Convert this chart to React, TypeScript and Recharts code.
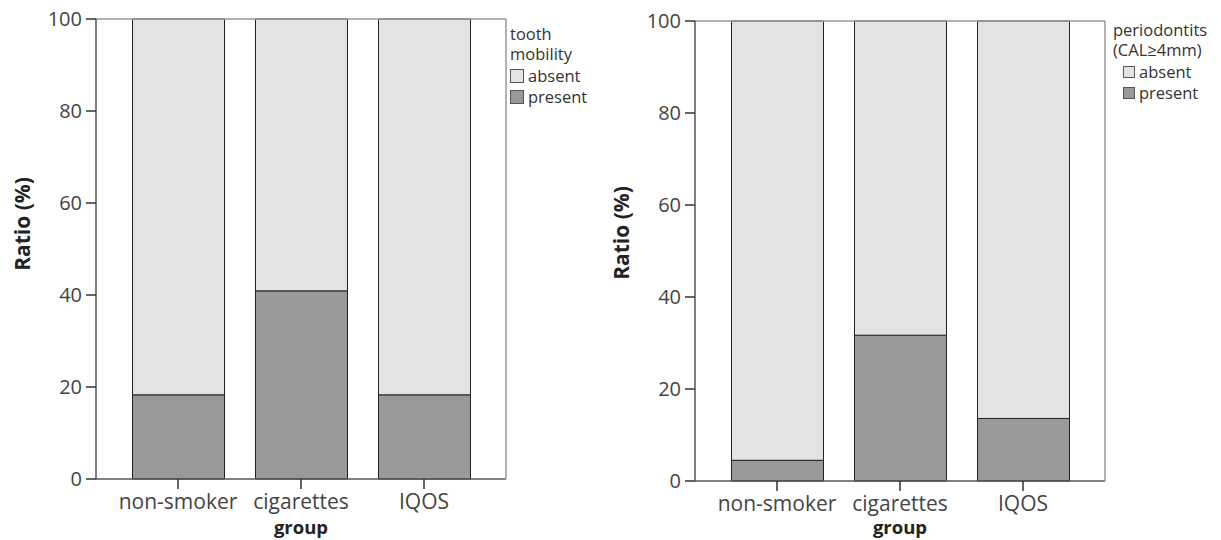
import { BarChart, Bar, XAxis, YAxis } from 'recharts';

const groups = ['non-smoker', 'cigarettes', 'IQOS'];

// tooth mobility (%)
const mobilityPresent = [18.3, 40.9, 18.3];
const mobilityAbsent = [81.7, 59.1, 81.7];

// periodontitis CAL>=4mm (%)
const perioPresent = [4.5, 31.7, 13.6];
const perioAbsent = [95.5, 68.3, 86.4];

const yTicks = [0, 20, 40, 60, 80, 100];

const ABSENT = '#e3e3e3';
const PRESENT = '#999999';
const FONT = '"Open Sans", "Noto Sans", sans-serif';

type PanelProps = {
    present: number[];
    absent: number[];
    top: number;
    labelShift: number;
};

function Panel({ present, absent, top, labelShift }: PanelProps) {
    const data = groups.map((g, i) => ({
        group: g,
        present: present[i],
        absent: absent[i],
    }));

    const yLabel = (props: any) => {
        const vb = props.viewBox;
        const cx = vb.x + 22;
        const cy = vb.y + vb.height / 2 + labelShift;
        return (
            <text
                x={cx}
                y={cy}
                transform={`rotate(-90 ${cx} ${cy})`}
                textAnchor="middle"
                dominantBaseline="central"
                fontFamily={FONT}
                fontWeight="bold"
                fontSize={21}
                fill="#222"
            >
                Ratio (%)
            </text>
        );
    };

    // axis title sits at the same baseline in both panels
    const xLabel = (props: any) => {
        const vb = props.viewBox;
        return (
            <text
                x={vb.x + vb.width / 2}
                y={534}
                textAnchor="middle"
                fontFamily={FONT}
                fontWeight="bold"
                fontSize={18.5}
                fill="#222"
            >
                group
            </text>
        );
    };

    return (
        <BarChart
            width={600}
            height={540}
            data={data}
            margin={{ top: top - 1, right: 93, bottom: 0, left: 0 }}
            barSize={92}
        >
            <XAxis
                dataKey="group"
                height={540 - top - 460}
                padding={{ left: 20.5, right: 20.5 }}
                tickSize={10}
                tickMargin={5}
                axisLine={{ stroke: '#555', strokeWidth: 1.5 }}
                tickLine={{ stroke: '#333', strokeWidth: 1.5 }}
                tick={{ fill: '#444', fontSize: 21, fontFamily: FONT }}
                label={xLabel}
            />
            <XAxis
                xAxisId="top"
                dataKey="group"
                orientation="top"
                height={1}
                padding={{ left: 20.5, right: 20.5 }}
                tick={false}
                tickLine={false}
                axisLine={{ stroke: '#999', strokeWidth: 1.5 }}
            />
            <YAxis
                domain={[0, 100]}
                ticks={yTicks}
                width={96}
                tickSize={10}
                tickMargin={4}
                interval={0}
                axisLine={{ stroke: '#555', strokeWidth: 1.5 }}
                tickLine={{ stroke: '#333', strokeWidth: 1.5 }}
                tick={{ fill: '#444', fontSize: 20, fontFamily: FONT }}
                label={yLabel}
            />
            <YAxis
                yAxisId="right"
                orientation="right"
                domain={[0, 100]}
                width={1}
                tick={false}
                tickLine={false}
                axisLine={{ stroke: '#999', strokeWidth: 1.5 }}
            />
            <Bar
                dataKey="present"
                stackId="a"
                fill={PRESENT}
                stroke="#222"
                strokeWidth={1}
                isAnimationActive={false}
            />
            <Bar
                dataKey="absent"
                stackId="a"
                fill={ABSENT}
                stroke="#222"
                strokeWidth={1}
                isAnimationActive={false}
            />
        </BarChart>
    );
}

type LegendProps = {
    left: number;
    top: number;
    title: string[];
    box: number;
    indent: number;
};

function LegendBox({ left, top, title, box, indent }: LegendProps) {
    const item = (label: string, color: string) => (
        <div style={{ display: 'flex', alignItems: 'center', height: 21, marginLeft: indent }}>
            <span
                style={{
                    width: box,
                    height: box,
                    background: color,
                    border: '1px solid #555',
                    boxSizing: 'border-box',
                    marginRight: 4,
                }}
            />
            <span>{label}</span>
        </div>
    );
    return (
        <div
            style={{
                position: 'absolute',
                left,
                top,
                fontFamily: FONT,
                fontSize: 16.5,
                color: '#333',
                lineHeight: '20px',
            }}
        >
            {title.map((t) => (
                <div key={t}>{t}</div>
            ))}
            <div style={{ marginTop: 1 }}>
                {item('absent', ABSENT)}
                {item('present', PRESENT)}
            </div>
        </div>
    );
}

export default function App() {
    return (
        <div
            style={{
                position: 'absolute',
                left: 0,
                top: 0,
                width: 1221,
                height: 540,
                background: '#fff',
            }}
        >
            <div style={{ position: 'absolute', left: 0, top: 0 }}>
                <Panel present={mobilityPresent} absent={mobilityAbsent} top={19} labelShift={-25} />
            </div>
            <div style={{ position: 'absolute', left: 599, top: 0 }}>
                <Panel present={perioPresent} absent={perioAbsent} top={21} labelShift={-18} />
            </div>
            <LegendBox left={510} top={24} title={['tooth', 'mobility']} box={14} indent={0} />
            <LegendBox left={1113} top={20} title={['periodontits', '(CAL\u22654mm)']} box={12} indent={10} />
        </div>
    );
}
